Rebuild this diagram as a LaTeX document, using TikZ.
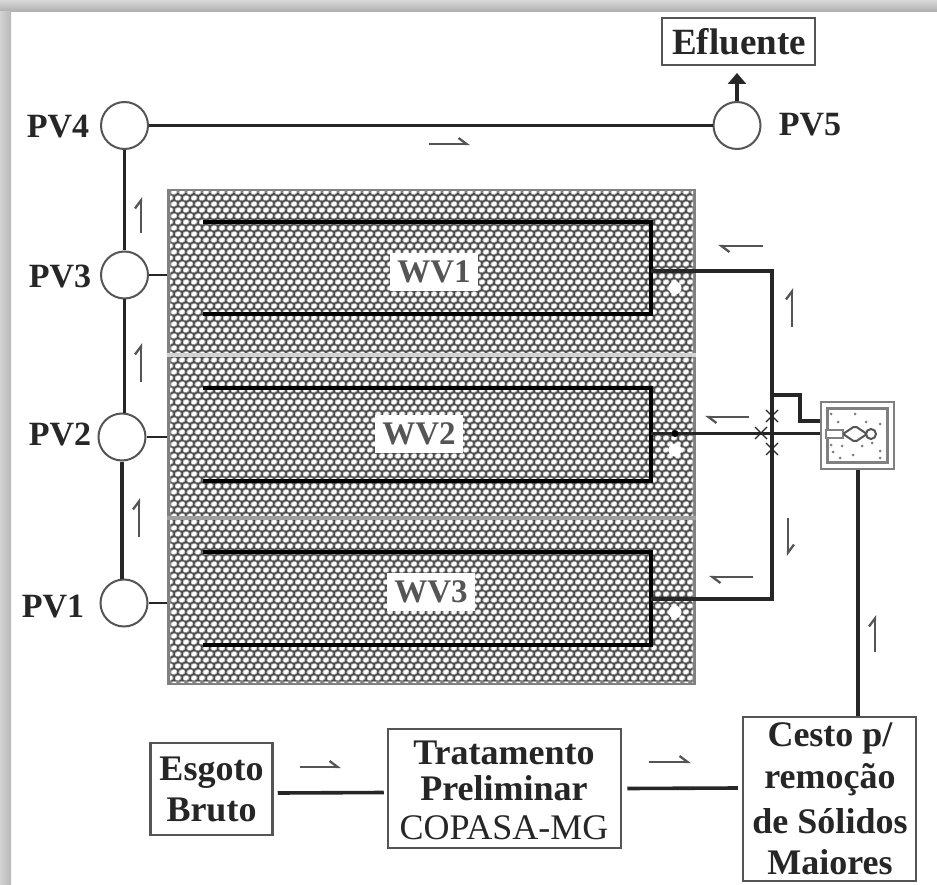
\documentclass[tikz,border=0pt]{standalone}
\usepackage{fontspec}
\setmainfont{Liberation Serif}
\usetikzlibrary{arrows.meta,patterns,calc}
\definecolor{ink}{HTML}{262626}
\definecolor{edge}{HTML}{555555}
\pgfdeclarepatternformonly{halo}{\pgfqpoint{-1pt}{-1pt}}{\pgfqpoint{9pt}{13pt}}{\pgfqpoint{8pt}{12pt}}{%
  \pgfpathellipse{\pgfqpoint{2pt}{3pt}}{\pgfqpoint{3.6pt}{0.5pt}}{\pgfqpoint{-0.3pt}{2.9pt}}%
  \pgfpathellipse{\pgfqpoint{6pt}{9pt}}{\pgfqpoint{3.6pt}{0.5pt}}{\pgfqpoint{-0.3pt}{2.9pt}}%
  \pgfusepath{fill}}
\pgfdeclarepatternformonly{core}{\pgfqpoint{-1pt}{-1pt}}{\pgfqpoint{9pt}{13pt}}{\pgfqpoint{8pt}{12pt}}{%
  \pgfpathellipse{\pgfqpoint{2pt}{3pt}}{\pgfqpoint{2.7pt}{0.4pt}}{\pgfqpoint{-0.2pt}{2.1pt}}%
  \pgfpathellipse{\pgfqpoint{6pt}{9pt}}{\pgfqpoint{2.7pt}{0.4pt}}{\pgfqpoint{-0.2pt}{2.1pt}}%
  \pgfusepath{fill}}
\tikzset{
  txt/.style={font=\fontsize{34}{34}\selectfont\bfseries,text=ink,inner sep=0pt},
  txtb/.style={font=\fontsize{36}{41}\selectfont\bfseries,text=ink,inner sep=0pt,align=center},
  pv/.style={circle,draw=edge,line width=2pt,fill=white,minimum size=47pt,inner sep=0pt},
  boxn/.style={draw=edge,line width=2.5pt,fill=white,inner sep=0pt},
  pipe/.style={draw=ink,line width=3.6pt},
  pipet/.style={draw=ink,line width=2.8pt},
  serp/.style={draw=black,line width=3.2pt},
  flow/.style={draw=edge,line width=2.3pt,-{Straight Barb[harpoon,length=8pt,width=12pt]}},
  wvlab/.style={font=\fontsize{33}{33}\selectfont\bfseries,text=edge,fill=white,inner xsep=7pt,inner ysep=8pt},
  xmark/.style={draw=ink,line width=1.3pt}
}
\begin{document}
\begin{tikzpicture}[x=1pt,y=-1pt]
\useasboundingbox (0,0) rectangle (937,885);
\fill[white] (0,0) rectangle (937,885);
% shadow of the frame
\shade[top color=gray!30,bottom color=gray!65] (0,0) rectangle (937,12);
\shade[left color=gray!35,right color=gray!55] (0,12) rectangle (11,885);
% block of wetlands
\node[draw=gray,line width=4pt,fill=gray!60!black,minimum width=525pt,minimum height=491pt,inner sep=0pt] (block) at (431,437) {};
\fill[pattern=halo,pattern color=gray!70] (170,192) rectangle (693,682);
\fill[pattern=core,pattern color=white] (170,192) rectangle (693,682);
\coordinate (d1a) at (block.west |- 0,355); \coordinate (d1b) at (block.east |- 0,355);
\coordinate (d2a) at (block.west |- 0,518); \coordinate (d2b) at (block.east |- 0,518);
\draw[gray!35,line width=3.5pt] (d1a) -- (d1b);
\draw[gray!75,line width=3.5pt] (d2a) -- (d2b);
% circles
\node[pv] (pv4) at (124.5,125.5) {};
\node[pv] (pv5) at (737,125.5) {};
\node[pv] (pv3) at (124.5,275) {};
\node[pv] (pv2) at (122,437) {};
\node[pv] (pv1) at (124,603) {};
\node[txt] at (58,127) {PV4};
\node[txt] at (810,125) {PV5};
\node[txt] at (60,277) {PV3};
\node[txt] at (60,435) {PV2};
\node[txt] at (53,607) {PV1};
% connectors between circles
\draw[pipe] (pv4) -- (pv5);
\draw[pipe] (pv4) -- (pv3);
\draw[pipe] (pv3.south) -- (pv3.south |- pv2.north);
\draw[pipe] (pv2.south) -- (pv2.south |- pv1.north);
\draw[pipet] (pv3.east) -- (pv3.east -| block.west);
\draw[pipet] (pv2.east) -- (pv2.east -| block.west);
\draw[pipet] (pv1.east) -- (pv1.east -| block.west);
% serpentines
\coordinate (a1) at (203,222); \coordinate (b1) at (651,222); \coordinate (c1) at (651,314); \coordinate (f1) at (203,314);
\coordinate (a2) at (203,388); \coordinate (b2) at (651,388); \coordinate (c2) at (651,481); \coordinate (f2) at (203,481);
\coordinate (a3) at (203,552); \coordinate (b3) at (651,552); \coordinate (c3) at (651,645); \coordinate (f3) at (203,645);
\draw[serp] (a1) -- (b1) -- (c1) -- (f1);
\draw[serp] (a2) -- (b2) -- (c2) -- (f2);
\draw[serp] (a3) -- (b3) -- (c3) -- (f3);
\node[wvlab] at (434,272) {WV1};
\node[wvlab] at (419,434) {WV2};
\node[wvlab] at (431,592) {WV3};
\fill[white] (675,288) circle (6.5pt) (675,450) circle (6.5pt) (675,612) circle (6.5pt);
% top box
\node[boxn,minimum width=153pt,minimum height=47pt] (efl) at (738.5,41.5) {};
\node[txt,font=\fontsize{37}{37}\selectfont\bfseries] at (739,42) {Efluente};
\coordinate (eflt) at (737,73);
\draw[draw=ink,line width=3.6pt,-{Triangle[length=11pt,width=18pt]}] (pv5.north) -- (eflt);
% bottom boxes
\node[boxn,minimum width=122pt,minimum height=92pt,txtb] (esg) at (211.5,789) {Esgoto\\Bruto};
\node[boxn,minimum width=233pt,minimum height=119pt] (trat) at (504.5,788.5) {};
\node[txtb] at (504,753) {Tratamento};
\node[txtb] at (504,788) {Preliminar};
\node[txtb,font=\fontsize{36}{36}\selectfont] at (504,828) {COPASA-MG};
\node[boxn,minimum width=173pt,minimum height=164pt] (cesto) at (829.5,799) {};
\node[txtb] at (830,738) {Cesto p/};
\node[txtb] at (830,780) {remoção};
\node[txtb] at (830,821) {de Sólidos};
\node[txtb] at (830,862) {Maiores};
\draw[pipe] ($(esg.east)+(4,4)$) -- ($(trat.west)+(-3,4)$);
\draw[pipe] ($(trat.east)+(5,0)$) -- ($(cesto.west)+(-4,-11)$ |- trat.east);
% small tank
\node[draw=gray,line width=2.5pt,fill=white,minimum width=73pt,minimum height=67pt,inner sep=0pt] (tank) at (857.5,435.5) {};
\node[draw=gray,line width=2.5pt,fill=white,minimum width=60pt,minimum height=54pt,inner sep=0pt] (tanki) at (857.5,435.5) {};
\foreach \p/\q in {831/414,855/414,838/422,866/422,880/424,842/446,862/446,880/451,833/452,840/458,853/455,880/458,872/443,831/445}
  \fill[gray] (\p,\q) circle (1.5pt);
% collector
\coordinate (e1) at (651,271); \coordinate (r1) at (772,271);
\coordinate (e3) at (651,599); \coordinate (r3) at (772,599);
\coordinate (e2) at (651,433.5);
\coordinate (j) at (772,395); \coordinate (k) at (800,395); \coordinate (l) at (800,421);
\draw[pipe] (e1) -- (r1) -- (r3) -- (e3);
\draw[pipet] (e2) -- (e2 -| tank.west);
\draw[pipe] (j) -- (k) -- (l) -- (l -| tank.west);
\foreach \cx/\cy in {772/416,772/449,761/433}
  \draw[xmark] (\cx-6,\cy-6) -- (\cx+6,\cy+6) (\cx-6,\cy+6) -- (\cx+6,\cy-6);
\fill[black] (675,433.5) circle (3.5pt);
% device in the tank
\draw[gray,line width=2pt,fill=white] (826,430) rectangle (843,438);
\draw[edge,line width=2pt,fill=white,rounded corners=2pt] (843,434) -- (855,426) -- (867,434) -- (855,442) -- cycle;
\draw[edge,line width=2pt,fill=white] (871,434) circle (5pt);
\coordinate (ts) at (858,470); \coordinate (tc) at (858,716);
\draw[pipe] (ts) -- (tc);
% flow marks
\draw[flow] (141,233) -- (141,197);
\draw[flow] (141,382) -- (141,343);
\draw[flow] (139,537) -- (139,498);
\draw[flow] (792,327) -- (792,288);
\draw[flow] (875,652) -- (875,615);
\draw[flow] (788,518) -- (788,556);
\draw[flow] (429,144) -- (470,144);
\draw[flow] (300,767) -- (341,767);
\draw[flow] (649,762) -- (691,762);
\draw[flow] (763,246) -- (718,246);
\draw[flow] (749,417) -- (705,417);
\draw[flow] (753,577) -- (709,577);
\end{tikzpicture}
\end{document}
